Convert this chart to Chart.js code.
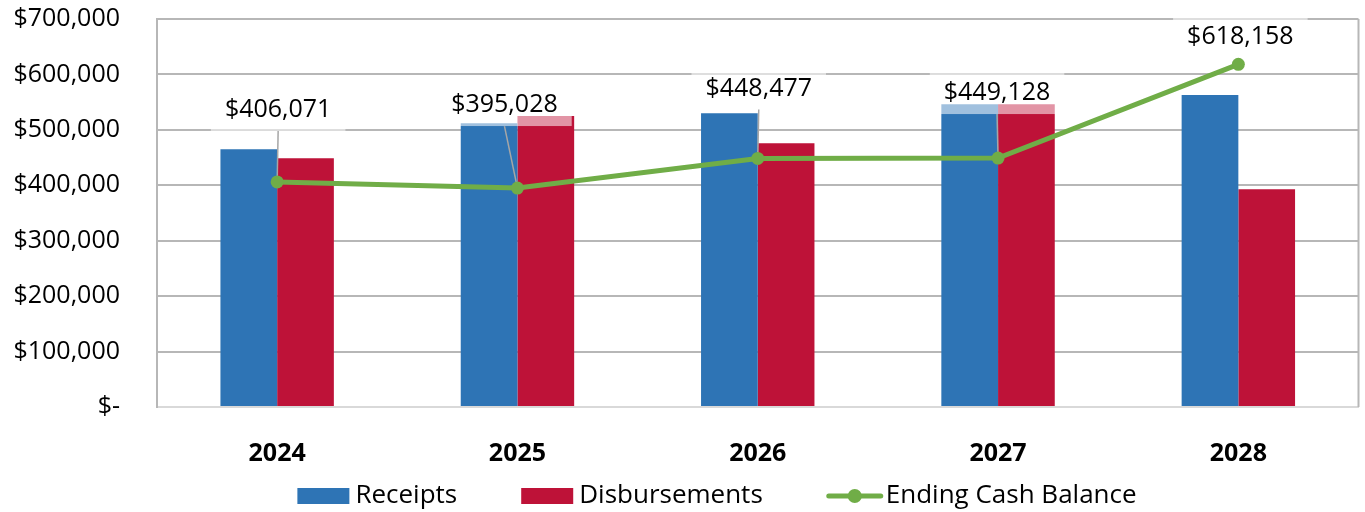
<!DOCTYPE html>
<html><head><meta charset="utf-8">
<script src="https://cdn.jsdelivr.net/npm/chart.js@4.4.1/dist/chart.umd.min.js"></script>
<style>html,body{margin:0;padding:0;background:#fff;} #wrap{width:1365px;height:512px;position:relative;}</style>
</head><body><div id="wrap"><canvas id="c"></canvas></div>
<script>
const years = ['2024', '2025', '2026', '2027', '2028'];
const receipts = [465000, 512000, 530000, 546000, 563000];
const disbursements = [449000, 525000, 476000, 546000, 393000];
const endingCash = [406071, 395028, 448477, 449128, 618158];
const yTickValues = [0, 100000, 200000, 300000, 400000, 500000, 600000, 700000];
const seriesNames = ['Receipts', 'Disbursements', 'Ending Cash Balance'];

const BLUE = '#2E74B5', RED = '#BE1238', GREEN = '#70AD47';
const FONT = '"Open Sans", "Noto Sans", sans-serif';
const fmt = v => v === 0 ? '$-' : '$' + v.toLocaleString('en-US');

const labelPlugin = {
  id: 'cashLabels',
  beforeDatasetDraw(chart, args, opts) {
    if (args.meta.type !== 'line') return;
    const ctx = chart.ctx;
    ctx.save();
    ctx.font = '25px ' + FONT;
    args.meta.data.forEach((pt, i) => {
      const [dx, dy] = opts.offsets[i];
      const cx = pt.x + dx, cy = pt.y + dy;
      const txt = fmt(endingCash[i]);
      const w = ctx.measureText(txt).width + 28;
      const top = cy - 20, bottom = cy + 21;
      ctx.fillStyle = 'rgba(255,255,255,0.55)';
      ctx.fillRect(cx - w / 2, top, w, bottom - top);
      if (pt.y - bottom > 10) {
        ctx.strokeStyle = '#a6a6a6';
        ctx.lineWidth = 1.5;
        ctx.beginPath(); ctx.moveTo(cx, bottom); ctx.lineTo(pt.x, pt.y); ctx.stroke();
      }
      ctx.fillStyle = '#000';
      ctx.textAlign = 'center';
      ctx.textBaseline = 'middle';
      ctx.fillText(txt, cx, cy);
    });
    ctx.restore();
  }
};

const framePlugin = {
  id: 'frame',
  beforeDatasetsDraw(chart) {
    const { ctx, chartArea: a } = chart;
    ctx.save();
    ctx.strokeStyle = '#b7b7b7';
    ctx.lineWidth = 2;
    ctx.beginPath(); ctx.moveTo(a.right, a.top); ctx.lineTo(a.right, a.bottom); ctx.stroke();
    ctx.restore();
  }
};

const legendPlugin = {
  id: 'customLegend',
  afterDraw(chart, args, opts) {
    const ctx = chart.ctx;
    ctx.save();
    ctx.font = '26px ' + FONT;
    const items = chart.data.datasets.map(ds => ({
      ds, sw: ds.type === 'line' ? 56 : 52, text: ds.label, gap: ds.type === 'line' ? 3 : 6
    }));
    let total = 0;
    items.forEach(it => { it.tw = ctx.measureText(it.text).width; total += it.sw + it.gap + it.tw; });
    total += opts.itemGap * (items.length - 1);
    let x = opts.centerX - total / 2;
    const y = opts.centerY;
    items.forEach(it => {
      if (it.ds.type === 'line') {
        ctx.strokeStyle = it.ds.borderColor; ctx.lineWidth = 5; ctx.lineCap = 'round';
        ctx.beginPath(); ctx.moveTo(x + 2, y); ctx.lineTo(x + it.sw - 2, y); ctx.stroke();
        ctx.fillStyle = it.ds.borderColor;
        ctx.beginPath(); ctx.arc(x + it.sw / 2, y, 7, 0, Math.PI * 2); ctx.fill();
      } else {
        ctx.fillStyle = it.ds.backgroundColor;
        ctx.fillRect(x, y - 8, it.sw, 16);
      }
      x += it.sw + it.gap;
      ctx.fillStyle = '#000'; ctx.textAlign = 'left'; ctx.textBaseline = 'middle';
      ctx.fillText(it.text, x, y);
      x += it.tw + opts.itemGap;
    });
    ctx.restore();
  }
};

new Chart(document.getElementById('c'), {
  data: {
    labels: years,
    datasets: [
      { type: 'bar', label: seriesNames[0], data: receipts, backgroundColor: BLUE, order: 1,
        categoryPercentage: 0.472, barPercentage: 1.0 },
      { type: 'bar', label: seriesNames[1], data: disbursements, backgroundColor: RED, order: 1,
        categoryPercentage: 0.472, barPercentage: 1.0 },
      { type: 'line', label: seriesNames[2], data: endingCash, borderColor: GREEN, backgroundColor: GREEN,
        borderWidth: 5, pointRadius: 6.5, pointHoverRadius: 6.5, pointBackgroundColor: GREEN, pointBorderWidth: 0, order: 0 }
    ]
  },
  options: {
    responsive: true,
    maintainAspectRatio: false,
    animation: false,
    layout: { padding: { left: 0, right: 2, top: 19, bottom: 45 } },
    plugins: {
      legend: { display: false },
      tooltip: { enabled: false },
      cashLabels: { offsets: [[1, -72], [-13, -83], [1, -70], [-1, -65], [2, -27]] },
      customLegend: { centerX: 717, centerY: 496, itemGap: 64 }
    },
    scales: {
      x: {
        grid: { display: false },
        border: { display: true, color: '#d9d9d9', width: 2 },
        ticks: { color: '#000', font: { family: FONT, size: 25, weight: 'bold' }, padding: 24 },
        afterFit: s => { s.height = 60; s.paddingLeft = 0; s.paddingRight = 0; }
      },
      y: {
        min: 0, max: 700000,
        afterBuildTicks: s => { s.ticks = yTickValues.map(v => ({ value: v })); },
        grid: { color: c => c.tick && c.tick.value === 0 ? '#d9d9d9' : '#b7b7b7', lineWidth: 2, drawTicks: false },
        border: { display: true, color: '#b7b7b7', width: 2 },
        ticks: { color: '#000', font: { family: FONT, size: 25 }, padding: 37, callback: v => fmt(v) },
        afterFit: s => { s.width = 157; s.paddingTop = 0; s.paddingBottom = 0; }
      }
    }
  },
  plugins: [labelPlugin, framePlugin, legendPlugin]
});
</script>
</body></html>
